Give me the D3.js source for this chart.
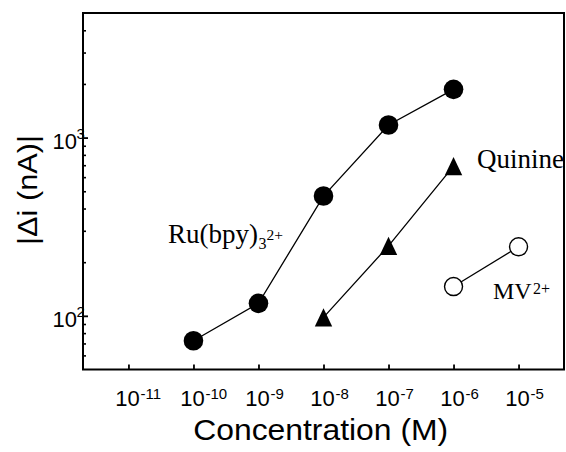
<!DOCTYPE html>
<html>
<head>
<meta charset="utf-8">
<script src="https://cdn.jsdelivr.net/npm/d3@7"></script>
<style>
  html, body { margin: 0; padding: 0; background: #fff; }
  svg { display: block; }
</style>
</head>
<body>
<script>
// Response current vs. concentration, log-log
const ruConc = [1e-10, 1e-9, 1e-8, 1e-7, 1e-6];
const ruCurrent = [72.5, 117.5, 470, 1176, 1865];
const quinineConc = [1e-8, 1e-7, 1e-6];
const quinineCurrent = [98, 247, 692];
const mvConc = [1e-6, 1e-5];
const mvCurrent = [146, 244];
const xTickExponents = [-11, -10, -9, -8, -7, -6, -5];
const yTickExponents = [2, 3];
const yMinorTicks = [60, 70, 80, 90, 200, 300, 400, 500, 600, 700, 800, 900, 2000, 3000, 4000];

const W = 566, H = 452;
const plot = { left: 83, right: 564, top: 13, bottom: 369.5 };
const sans = "'Liberation Sans', Arial, Helvetica, sans-serif";
const serif = "'Liberation Serif', 'Times New Roman', serif";

const x = d3.scaleLog().domain([2e-12, 5e-5]).range([plot.left, plot.right]);
const y = d3.scaleLog().domain([50, 5000]).range([plot.bottom, plot.top]);

const svg = d3.select("body").append("svg")
  .attr("width", W).attr("height", H)
  .attr("viewBox", `0 0 ${W} ${H}`);

// ----- x axis: inward ticks, 10^n labels -----
const gx = svg.append("g")
  .attr("transform", `translate(0,${plot.bottom})`)
  .call(d3.axisBottom(x)
    .tickValues(xTickExponents.map(e => Math.pow(10, e)))
    .tickSize(-5)
    .tickFormat(""));
gx.select(".domain").remove();
gx.selectAll(".tick line").attr("stroke", "#000").attr("stroke-width", 1.8);
gx.selectAll(".tick text").remove();
gx.selectAll(".tick").each(function (d, i) {
  const g = d3.select(this);
  g.append("text")
    .attr("x", -1.5).attr("y", 36.5)
    .attr("text-anchor", "middle")
    .attr("font-family", sans).attr("font-size", 22)
    .attr("fill", "#000")
    .text("10");
  g.append("text")
    .attr("x", 11.5).attr("y", 29.5)
    .attr("text-anchor", "start")
    .attr("font-family", sans).attr("font-size", 15)
    .attr("fill", "#000")
    .text(String(xTickExponents[i]));
});

// ----- y axis: major + minor inward ticks -----
const gyMinor = svg.append("g")
  .attr("transform", `translate(${plot.left},0)`)
  .call(d3.axisLeft(y).tickValues(yMinorTicks).tickSize(-3).tickFormat(""));
gyMinor.select(".domain").remove();
gyMinor.selectAll(".tick line").attr("stroke", "#000").attr("stroke-width", 1.6);
gyMinor.selectAll(".tick text").remove();

const gy = svg.append("g")
  .attr("transform", `translate(${plot.left},0)`)
  .call(d3.axisLeft(y)
    .tickValues(yTickExponents.map(e => Math.pow(10, e)))
    .tickSize(-5)
    .tickFormat(""));
gy.select(".domain").remove();
gy.selectAll(".tick line").attr("stroke", "#000").attr("stroke-width", 1.8);
gy.selectAll(".tick text").remove();
gy.selectAll(".tick").each(function (d, i) {
  const g = d3.select(this);
  g.append("text")
    .attr("x", -6).attr("y", 10.5)
    .attr("text-anchor", "end")
    .attr("font-family", sans).attr("font-size", 22)
    .attr("fill", "#000")
    .text("10");
  g.append("text")
    .attr("x", -6.5).attr("y", 0.5)
    .attr("text-anchor", "start")
    .attr("font-family", sans).attr("font-size", 15)
    .attr("fill", "#000")
    .text(String(yTickExponents[i]));
});

// ----- frame -----
svg.append("rect")
  .attr("x", plot.left).attr("y", plot.top)
  .attr("width", plot.right - plot.left).attr("height", plot.bottom - plot.top)
  .attr("fill", "none").attr("stroke", "#000").attr("stroke-width", 2);

// ----- axis titles -----
svg.append("text")
  .attr("x", 320.7).attr("y", 439.5)
  .attr("text-anchor", "middle")
  .attr("font-family", sans).attr("font-size", 29)
  .attr("textLength", 255).attr("lengthAdjust", "spacingAndGlyphs")
  .attr("fill", "#000")
  .text("Concentration (M)");

svg.append("text")
  .attr("transform", "translate(37,190) rotate(-90)")
  .attr("text-anchor", "middle")
  .attr("font-family", sans).attr("font-size", 27)
  .attr("textLength", 110).attr("lengthAdjust", "spacingAndGlyphs")
  .attr("fill", "#000")
  .text("|\u0394i (nA)|");

// ----- series -----
const line = d3.line().x(d => x(d[0])).y(d => y(d[1]));
const ru = d3.zip(ruConc, ruCurrent);
const quinine = d3.zip(quinineConc, quinineCurrent);
const mv = d3.zip(mvConc, mvCurrent);

[ru, quinine, mv].forEach(s => {
  svg.append("path")
    .datum(s)
    .attr("d", line)
    .attr("fill", "none")
    .attr("stroke", "#000")
    .attr("stroke-width", 1.3);
});

svg.append("g").selectAll("circle")
  .data(ru).join("circle")
  .attr("cx", d => x(d[0])).attr("cy", d => y(d[1]))
  .attr("r", 9.8)
  .attr("fill", "#000");

const tri = "M0,-9.2L8.7,9.2L-8.7,9.2Z";
svg.append("g").selectAll("path")
  .data(quinine).join("path")
  .attr("transform", d => `translate(${x(d[0])},${y(d[1])})`)
  .attr("d", tri)
  .attr("fill", "#000");

svg.append("g").selectAll("circle")
  .data(mv).join("circle")
  .attr("cx", d => x(d[0])).attr("cy", d => y(d[1]))
  .attr("r", 9)
  .attr("fill", "#fff")
  .attr("stroke", "#000")
  .attr("stroke-width", 1.4);

// ----- series labels -----
const ruLabel = svg.append("g").attr("font-family", serif).attr("fill", "#000");
ruLabel.append("text").attr("x", 168).attr("y", 243.3).attr("font-size", 27).text("Ru(bpy)");
ruLabel.append("text").attr("x", 258.5).attr("y", 248.5).attr("font-size", 16).text("3");
ruLabel.append("text").attr("x", 266.5).attr("y", 240).attr("font-size", 15.5).text("2+");

svg.append("text")
  .attr("x", 477).attr("y", 168.3)
  .attr("font-family", serif).attr("font-size", 27)
  .attr("fill", "#000")
  .text("Quinine");

const mvLabel = svg.append("g").attr("font-family", serif).attr("fill", "#000");
mvLabel.append("text").attr("x", 493).attr("y", 299.3).attr("font-size", 24).text("MV");
mvLabel.append("text").attr("x", 533).attr("y", 293.5).attr("font-size", 16).text("2+");
</script>
</body>
</html>
